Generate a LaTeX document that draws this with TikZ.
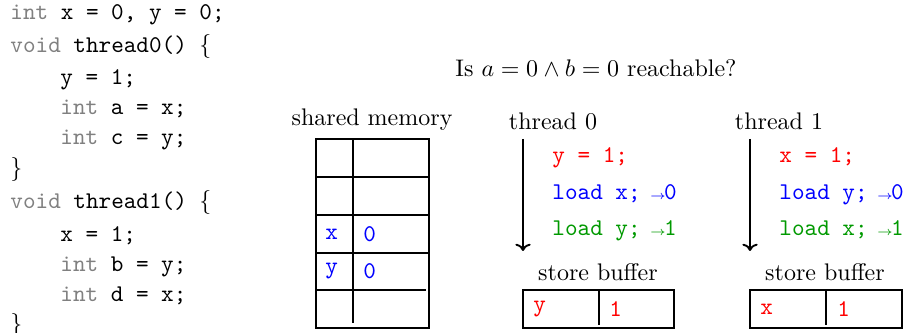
\documentclass[tikz,border=0pt]{standalone}
\usepackage{tikz}
\usetikzlibrary{arrows.meta}
\newcommand{\kw}[1]{\textcolor{gray}{#1}}
\newcommand{\ret}[1]{\kern-1.4pt$\scriptscriptstyle\rightarrow$\kern-0.9pt#1}
\colorlet{ldgreen}{green!60!black}

\begin{document}
\begin{tikzpicture}[x=0.4167pt, y=-0.4167pt,
    code/.style={anchor=west, font=\ttfamily, inner sep=0pt, text height=7pt, text depth=2pt},
    instr/.style={anchor=west, font=\ttfamily, inner sep=0pt, text height=7pt, text depth=2pt},
    caption/.style={inner sep=0pt},
    cell/.style={anchor=west, font=\ttfamily, inner sep=0pt},
    grid/.style={semithick},
    timeline/.style={thick, -{To[scale=0.9]}}
  ]
    \useasboundingbox (0,0) rectangle (904,333);

    \node[code] (decl) at (10,14) {\kw{int} x = 0, y = 0;};
    \node[code] (th0) at (10,47) {\kw{void} thread0() $\{$};
    \node[code] (s0a) at (60,79) {y = 1;};
    \node[code] (s0b) at (60,109) {\kw{int} a = x;};
    \node[code] (s0c) at (60,139) {\kw{int} c = y;};
    \node[code] (end0) at (10,170) {$\}$};
    \node[code] (th1) at (10,203) {\kw{void} thread1() $\{$};
    \node[code] (s1a) at (60,236) {x = 1;};
    \node[code] (s1b) at (60,266) {\kw{int} b = y;};
    \node[code] (s1c) at (60,296) {\kw{int} d = x;};
    \node[code] (end1) at (10,326) {$\}$};

    \node[caption] (question) at (596,68) {Is $a=0\wedge b=0$ reachable?};

    \node[caption] (memlabel) at (372,120) {shared memory};
    \draw[grid] (316,139) rectangle (429,328);
    \foreach \r in {177,215,253}
      \draw[grid] (316,\r) -- (429,\r);
    \draw[grid] (316,290) -- (426,290);
    \draw[grid] (353,139) -- (353,323);
    \node[cell, blue] (memx) at (325,234) {x};
    \node[cell, blue] (memx0) at (363,234) {0};
    \node[cell, blue] (memy) at (325,271) {y};
    \node[cell, blue] (memy0) at (363,271) {0};

    \node[caption] (t0label) at (553,121) {thread 0};
    \coordinate (t0top) at (523,139);
    \coordinate (t0bot) at (523,251);
    \draw[timeline] (t0top) -- (t0bot);
    \node[instr, red] (t0a) at (552,157) {y = 1;};
    \node[instr, blue] (t0b) at (552,194) {load x; \ret{0}};
    \node[instr, ldgreen] (t0c) at (552,230) {load y; \ret{1}};
    \node[caption] (sb0label) at (598,272) {store buffer};
    \draw[grid] (523,290) rectangle (674,328);
    \draw[grid] (599,290) -- (599,325);
    \node[cell, red] (sb0y) at (533,309) {y};
    \node[cell, red] (sb0v) at (609,309) {1};

    \node[caption] (t1label) at (779,121) {thread 1};
    \coordinate (t1top) at (750,139);
    \coordinate (t1bot) at (750,251);
    \draw[timeline] (t1top) -- (t1bot);
    \node[instr, red] (t1a) at (779,157) {x = 1;};
    \node[instr, blue] (t1b) at (779,194) {load y; \ret{0}};
    \node[instr, ldgreen] (t1c) at (779,230) {load x; \ret{1}};
    \node[caption] (sb1label) at (825,272) {store buffer};
    \draw[grid] (750,290) rectangle (902,328);
    \draw[grid] (826,290) -- (826,325);
    \node[cell, red] (sb1x) at (760,309) {x};
    \node[cell, red] (sb1v) at (837,309) {1};
  \end{tikzpicture}
\end{document}
